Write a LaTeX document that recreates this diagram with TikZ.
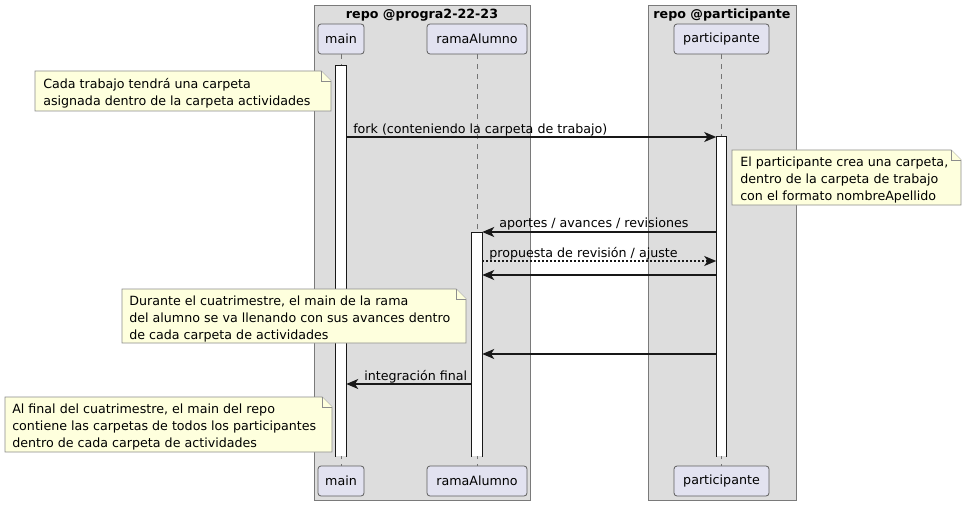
\documentclass[tikz,border=0pt]{standalone}
\usepackage{fontspec}
\setmainfont{DejaVu Sans}
\usetikzlibrary{arrows.meta}
\definecolor{boxbg}{HTML}{DDDDDD}
\definecolor{boxline}{HTML}{7A7A7A}
\definecolor{partfill}{HTML}{E2E2F0}
\definecolor{ink}{HTML}{181818}
\definecolor{notefill}{HTML}{FEFFDD}
\definecolor{noteline}{HTML}{8C8C8C}
\tikzset{
  grp/.style={fill=boxbg, draw=boxline, line width=0.75pt},
  grptitle/.style={font=\fontsize{9.5}{12}\selectfont\bfseries, inner sep=0pt},
  part/.style={draw=ink!70, fill=partfill, rounded corners=2.25pt, line width=0.6pt,
    minimum height=22.5pt, inner sep=0pt},
  lifeline/.style={draw=ink!60, dashed, dash pattern=on 3.75pt off 3.75pt, line width=0.6pt},
  actbar/.style={fill=white, minimum width=7.5pt, inner sep=0pt, anchor=north},
  actedge/.style={draw=ink, line width=0.75pt},
  msg/.style={draw=ink, line width=1.1pt, -{Stealth[length=9pt, width=7.5pt, inset=2.5pt]}},
  dotmsg/.style={msg, dash pattern=on 1.5pt off 1.5pt},
  msglabel/.style={anchor=base west, inner sep=0pt},
  notebg/.style={fill=notefill, draw=noteline, line width=0.6pt},
  notetext/.style={anchor=north west, align=left, inner sep=0pt,
    font=\fontsize{9.5}{12.5}\selectfont},
}
% folded-corner note: #1,#2 top-left, #3,#4 bottom-right
\newcommand\drawnote[4]{%
  \draw[notebg] (#1,#2) -- (#3-10,#2) -- (#3,#2+10) -- (#3,#4) -- (#1,#4) -- cycle;
  \draw[notebg] (#3-10,#2) -- (#3-10,#2+10) -- (#3,#2+10);
}
% activation bar outline: open at the bottom
\newcommand\baredge[1]{%
  \draw[actedge] (#1.south west) -- (#1.north west) -- (#1.north east) -- (#1.south east);
}
\begin{document}
\begin{tikzpicture}[x=0.75pt, y=-0.75pt, font=\fontsize{9.5}{12}\selectfont]
\useasboundingbox (0,0) rectangle (967,506);

% repository groups
\draw[grp] (314,6) rectangle (530,500);
\node[grptitle] (g1) at (422,15) {repo @progra2-22-23};
\draw[grp] (648,6) rectangle (796,500);
\node[grptitle] (g2) at (722,15) {repo @participante};

% participants (top and bottom)
\node[part, minimum width=34.5pt] (mainT) at (341,39) {main};
\node[part, minimum width=75pt] (ramaT) at (477,39) {ramaAlumno};
\node[part, minimum width=71.25pt] (partT) at (721.5,39) {participante};
\node[part, minimum width=34.5pt] (mainB) at (341,481) {main};
\node[part, minimum width=75pt] (ramaB) at (477,481) {ramaAlumno};
\node[part, minimum width=71.25pt] (partB) at (721.5,481) {participante};

% lifelines
\draw[lifeline] (mainT.south) -- (mainB.north);
\draw[lifeline] (ramaT.south) -- (ramaB.north);
\draw[lifeline] (partT.south) -- (partB.north);

% activation bars
\node[actbar, minimum height=292.5pt] (amain) at (341,66) {};
\baredge{amain}
\node[actbar, minimum height=239.25pt] (apart) at (721.5,137) {};
\baredge{apart}
\node[actbar, minimum height=168pt] (arama) at (477,232) {};
\baredge{arama}

% notes
\drawnote{35}{71}{331}{111}
\node[notetext] (n1) at (43,78) {Cada trabajo tendrá una carpeta\\asignada dentro de la carpeta actividades};
\drawnote{732}{150}{961}{205}
\node[notetext] (n2) at (740,157) {El participante crea una carpeta,\\dentro de la carpeta de trabajo\\con el formato nombreApellido};
\drawnote{122}{289}{466}{343}
\node[notetext] (n3) at (129,296) {Durante el cuatrimestre, el main de la rama\\del alumno se va llenando con sus avances dentro\\de cada carpeta de actividades};
\drawnote{5}{397}{332}{452}
\node[notetext] (n4) at (12,404) {Al final del cuatrimestre, el main del repo\\contiene las carpetas de todos los participantes\\dentro de cada carpeta de actividades};

% messages
\draw[msg] (amain.east |- 0,137) -- (apart.west |- 0,137);
\node[msglabel] (l1) at (353,133.5) {fork (conteniendo la carpeta de trabajo)};
\draw[msg] (apart.west |- 0,232) -- (arama.east |- 0,232);
\node[msglabel] (l2) at (499,228) {aportes / avances / revisiones};
\draw[dotmsg] (arama.east |- 0,261) -- (apart.west |- 0,261);
\node[msglabel] (l3) at (489,257) {propuesta de revisión / ajuste};
\draw[msg] (apart.west |- 0,275) -- (arama.east |- 0,275);
\draw[msg] (apart.west |- 0,354) -- (arama.east |- 0,354);
\draw[msg] (arama.west |- 0,384) -- (amain.east |- 0,384);
\node[msglabel] (l4) at (364,380) {integración final};
\end{tikzpicture}
\end{document}
